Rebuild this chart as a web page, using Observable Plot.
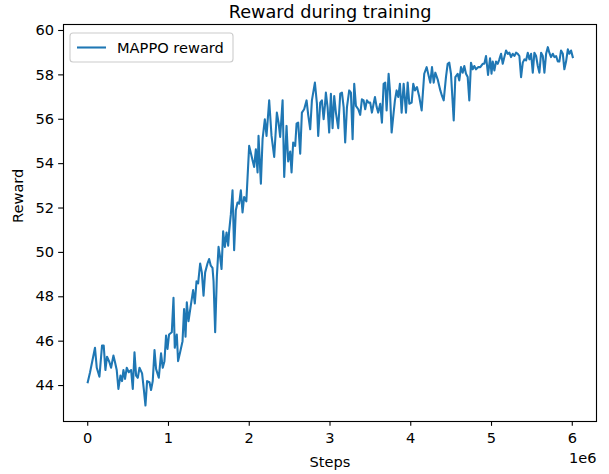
<!DOCTYPE html>
<html>
<head>
<meta charset="utf-8">
<script src="https://cdn.jsdelivr.net/npm/d3@7"></script>
<script src="https://cdn.jsdelivr.net/npm/@observablehq/plot@0.6"></script>
<style>
  html, body { margin: 0; padding: 0; background: white; }
  #chart { width: 609px; height: 474px; }
</style>
</head>
<body>
<div id="chart"></div>
<script>
// Training steps in millions (x values)
const stepsMillions = [
  0.000, 0.029, 0.090, 0.112, 0.145, 0.177, 0.198, 0.219, 0.239, 0.269,
  0.289, 0.318, 0.338, 0.359, 0.380, 0.405, 0.425, 0.442, 0.462, 0.483,
  0.508, 0.537, 0.558, 0.579, 0.599, 0.620, 0.641, 0.673, 0.694, 0.715,
  0.735, 0.765, 0.784, 0.805, 0.827, 0.846, 0.880, 0.908, 0.929, 0.950,
  0.970, 0.988, 1.007, 1.041, 1.062, 1.078, 1.103, 1.119, 1.144, 1.174,
  1.193, 1.211, 1.227, 1.248, 1.276, 1.305, 1.326, 1.347, 1.367, 1.392,
  1.413, 1.434, 1.454, 1.483, 1.503, 1.524, 1.545, 1.558, 1.578, 1.599,
  1.620, 1.639, 1.657, 1.677, 1.698, 1.719, 1.739, 1.751, 1.772, 1.793,
  1.813, 1.834, 1.855, 1.875, 1.896, 1.917, 1.937, 1.964, 1.999, 2.041,
  2.061, 2.082, 2.103, 2.115, 2.144, 2.165, 2.193, 2.214, 2.247, 2.276,
  2.309, 2.342, 2.363, 2.383, 2.413, 2.433, 2.462, 2.482, 2.507, 2.524,
  2.544, 2.569, 2.586, 2.606, 2.631, 2.652, 2.680, 2.710, 2.730, 2.755,
  2.776, 2.813, 2.838, 2.854, 2.879, 2.900, 2.921, 2.937, 2.949, 2.970,
  2.990, 3.011, 3.032, 3.052, 3.073, 3.102, 3.127, 3.148, 3.169, 3.188,
  3.210, 3.238, 3.259, 3.280, 3.300, 3.321, 3.350, 3.374, 3.395, 3.416,
  3.436, 3.457, 3.478, 3.498, 3.519, 3.540, 3.557, 3.578, 3.597, 3.622,
  3.643, 3.664, 3.684, 3.701, 3.726, 3.742, 3.763, 3.788, 3.804, 3.825,
  3.845, 3.866, 3.887, 3.912, 3.941, 3.962, 3.982, 4.011, 4.031, 4.052,
  4.077, 4.106, 4.135, 4.167, 4.197, 4.219, 4.242, 4.263, 4.284, 4.304,
  4.333, 4.366, 4.387, 4.408, 4.436, 4.457, 4.477, 4.498, 4.532, 4.552,
  4.581, 4.601, 4.622, 4.643, 4.663, 4.684, 4.705, 4.725, 4.746, 4.767,
  4.787, 4.808, 4.837, 4.861, 4.891, 4.911, 4.932, 4.957, 4.982, 5.000,
  5.015, 5.035, 5.056, 5.077, 5.097, 5.118, 5.139, 5.159, 5.180, 5.201,
  5.221, 5.242, 5.263, 5.283, 5.304, 5.325, 5.345, 5.366, 5.387, 5.407,
  5.428, 5.449, 5.469, 5.490, 5.511, 5.531, 5.552, 5.573, 5.593, 5.614,
  5.635, 5.655, 5.676, 5.697, 5.716, 5.737, 5.759, 5.779, 5.800, 5.821,
  5.840, 5.861, 5.883, 5.902, 5.923, 5.945, 5.964, 5.985, 6.006
];

// MAPPO reward values
const mappoReward = [
  44.15, 44.6, 45.7, 44.8, 44.4, 45.8, 45.8, 44.7, 45.3, 45.05,
  44.8, 45.35, 45.05, 44.7, 43.85, 44.45, 44.2, 44.7, 44.3, 44.8,
  44.6, 44.7, 43.85, 45.5, 44.45, 44.35, 44.8, 44.55, 43.85, 43.1,
  44.2, 44.15, 43.8, 44.2, 45.6, 44.75, 44.35, 45.45, 44.8, 45.1,
  46.25, 45.65, 46.3, 46.4, 47.95, 45.7, 46.3, 45.1, 45.5, 46.0,
  47.45, 46.2, 47.75, 46.9, 47.6, 48.3, 47.7, 48.7, 48.6, 49.5,
  49.1, 48.05, 49.1, 49.5, 49.7, 49.4, 49.3, 48.7, 46.4, 48.9,
  50.25, 49.8, 49.25, 50.95, 50.25, 50.9, 50.3, 50.95, 51.7, 52.8,
  50.1, 51.9, 52.25, 52.2, 52.8, 51.8, 52.5, 52.3, 54.8, 54.15,
  53.85, 54.65, 53.6, 55.25, 53.1, 55.1, 56.0, 55.25, 56.85, 55.25,
  54.3, 56.3, 55.85, 55.2, 56.85, 53.4, 55.7, 54.1, 54.55, 53.6,
  54.95, 54.8, 55.8, 55.85, 54.45, 56.3, 56.45, 56.85, 56.2, 55.55,
  56.85, 57.65, 56.7, 55.25, 56.75, 56.85, 56.0, 56.6, 57.2, 56.55,
  55.4, 57.15, 55.6, 57.05, 56.3, 55.6, 57.15, 57.2, 56.55, 54.95,
  56.55, 57.3, 57.2, 55.1, 57.6, 56.6, 56.45, 56.2, 56.9, 56.85,
  56.45, 56.85, 56.75, 56.75, 56.3, 56.7, 57.0, 56.55, 56.3, 56.7,
  55.85, 57.6, 57.65, 56.4, 58.05, 57.3, 55.4, 56.3, 56.85, 57.3,
  57.0, 57.6, 56.3, 57.6, 56.3, 57.65, 56.7, 56.75, 57.6, 57.3,
  57.45, 57.0, 56.4, 58.05, 58.35, 58.0, 57.65, 58.35, 57.65, 58.1,
  57.8, 57.3, 57.05, 56.85, 57.9, 58.5, 58.55, 58.05, 55.95, 57.9,
  58.05, 57.75, 58.35, 58.1, 58.4, 58.05, 57.9, 56.85, 58.55, 58.25,
  58.4, 58.25, 58.35, 58.35, 58.5, 58.5, 58.85, 58.0, 58.75, 58.05,
  58.6, 58.2, 58.6, 58.5, 58.7, 58.95, 58.5, 58.8, 59.1, 58.95,
  59.0, 58.8, 58.95, 58.85, 59.0, 58.95, 58.85, 57.9, 58.55, 58.7,
  58.65, 59.0, 58.7, 58.95, 58.1, 59.0, 58.85, 58.4, 58.1, 59.0,
  58.85, 58.1, 58.95, 59.25, 59.0, 58.8, 58.95, 58.8, 58.85, 58.6,
  58.6, 59.1, 58.95, 58.25, 58.6, 59.15, 58.95, 59.1, 58.8
];

const xTickValues = [0, 1, 2, 3, 4, 5, 6];          // in millions of steps
const yTickValues = [44, 46, 48, 50, 52, 54, 56, 58, 60];
const titleText = "Reward during training";
const xLabelText = "Steps";
const yLabelText = "Reward";
const xOffsetText = "1e6";
const seriesName = "MAPPO reward";
const seriesColor = "#1f77b4";

const data = stepsMillions.map((s, i) => ({ step: s * 1e6, reward: mappoReward[i] }));

const FONT = "DejaVu Sans";
const fs = 14.6;

const chart = Plot.plot({
  width: 609,
  height: 474,
  marginLeft: 63,
  marginRight: 13,
  marginTop: 24,
  marginBottom: 53,
  style: { fontFamily: FONT, fontSize: fs + "px", background: "white", color: "black", overflow: "visible" },
  x: { domain: [-0.3e6, 6.3e6] },
  y: { domain: [42.38, 60.27] },
  marks: [
    Plot.axisX({
      ticks: xTickValues.map(d => d * 1e6),
      tickFormat: d => String(Math.round(d / 1e6)),
      tickSize: 4.86, tickPadding: 6.0, strokeWidth: 1.1,
      label: null, fontSize: fs
    }),
    Plot.axisY({
      ticks: yTickValues,
      tickFormat: d => String(d),
      tickSize: 4.86, tickPadding: 4.5, strokeWidth: 1.1,
      label: null, fontSize: fs
    }),
    Plot.line(data, { x: "step", y: "reward", stroke: seriesColor, strokeWidth: 2.08, strokeLinejoin: "round", strokeLinecap: "square" }),
    Plot.frame({ stroke: "black", strokeWidth: 1.11 }),
    Plot.text([titleText], { frameAnchor: "top", dy: -12.3, lineAnchor: "middle", fontSize: 17.7, text: d => d }),
    Plot.text([xLabelText], { frameAnchor: "bottom", dy: 41, lineAnchor: "middle", fontSize: fs, text: d => d }),
    Plot.text([xOffsetText], { frameAnchor: "bottom-right", dy: 37, textAnchor: "end", lineAnchor: "middle", fontSize: fs, text: d => d }),
    Plot.text([yLabelText], { frameAnchor: "left", dx: -45, rotate: -90, lineAnchor: "middle", fontSize: fs, text: d => d })
  ]
});

document.getElementById("chart").appendChild(chart);

// Legend (matplotlib style, upper left inside axes)
const svg = d3.select(chart);
const lg = svg.append("g").attr("class", "legend").attr("text-anchor", "start");
lg.append("rect")
  .attr("x", 70).attr("y", 33).attr("width", 163).attr("height", 29)
  .attr("rx", 3).attr("ry", 3)
  .attr("fill", "white").attr("fill-opacity", 0.8)
  .attr("stroke", "#cccccc").attr("stroke-width", 1.1);
lg.append("path")
  .attr("d", "M77,47.5H106")
  .attr("fill", "none")
  .attr("stroke", seriesColor).attr("stroke-width", 2.08);
lg.append("text")
  .attr("x", 117).attr("y", 47.5).attr("dy", "0.35em")
  .attr("text-anchor", "start")
  .attr("font-family", FONT).attr("font-size", fs)
  .attr("fill", "black")
  .text(seriesName);
</script>
</body>
</html>
